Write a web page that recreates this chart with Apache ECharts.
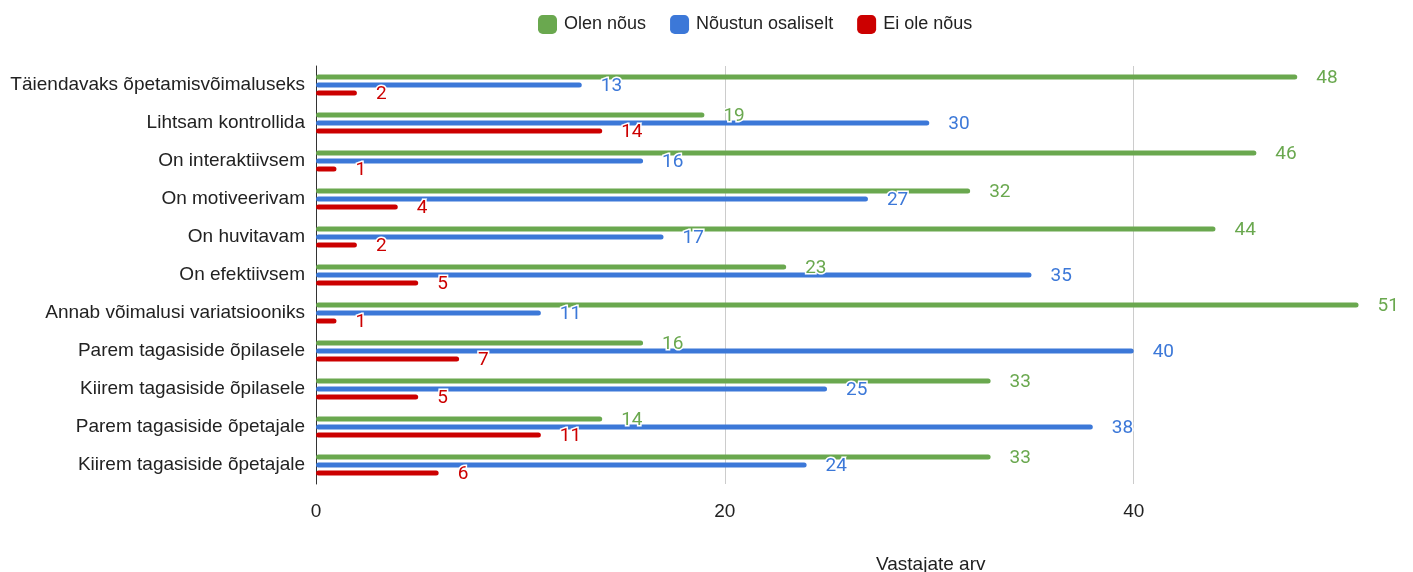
<!DOCTYPE html>
<html><head><meta charset="utf-8">
<script src="https://cdn.jsdelivr.net/npm/echarts@6/dist/echarts.min.js"></script>
<style>html,body{margin:0;padding:0;background:#fff}#c{width:1413px;height:572px}</style>
</head><body><div id="c"></div>
<script>
const categories = ["Täiendavaks õpetamisvõimaluseks","Lihtsam kontrollida","On interaktiivsem","On motiveerivam","On huvitavam","On efektiivsem","Annab võimalusi variatsiooniks","Parem tagasiside õpilasele","Kiirem tagasiside õpilasele","Parem tagasiside õpetajale","Kiirem tagasiside õpetajale"];
const seriesNames = ["Olen nõus","Nõustun osaliselt","Ei ole nõus"];
const olenNous = [48,19,46,32,44,23,51,16,33,14,33];
const noustunOsaliselt = [13,30,16,27,17,35,11,40,25,38,24];
const eiOleNous = [2,14,1,4,2,5,1,7,5,11,6];
const axisTitle = "Vastajate arv";
const colors = ["#6aa84f","#3c78d8","#cc0000"];
const values = [olenNous, noustunOsaliselt, eiOleNous];

const chart = echarts.init(document.getElementById('c'));
chart.setOption({
  animation:false,
  legend:{top:10,left:533,itemWidth:19,itemHeight:19,itemGap:24,icon:'roundRect',
    textStyle:{fontFamily:'Liberation Sans, Arial',fontSize:18,color:'#222',padding:[0,0,0,2]},
    data:seriesNames},
  grid:{left:316,right:34,top:66,bottom:88,containLabel:false},
  xAxis:{type:'value',min:0,max:52,interval:20,
    axisLine:{show:false},axisTick:{show:false},
    axisLabel:{showMaxLabel:false,margin:18,fontFamily:'Liberation Sans, Arial',fontSize:19,color:'#222'},
    splitLine:{show:true,showMinLine:false,showMaxLine:false,lineStyle:{color:'#cccccc',width:1}}},
  yAxis:{type:'category',inverse:true,data:categories,
    axisLine:{show:true,lineStyle:{color:'#333',width:1}},axisTick:{show:false},
    axisLabel:{margin:11,fontFamily:'Liberation Sans, Arial',fontSize:19,color:'#222'}},
  graphic:[{type:'text',left:876,top:555,style:{text:axisTitle,font:'19px "Liberation Sans", Arial',fill:'#222'}}],
  series: seriesNames.map((n,i)=>({
    name:n,type:'bar',data:values[i],barWidth:5,barGap:'60%',
    itemStyle:{color:colors[i],borderRadius:2.5},
    label:{show:true,position:'right',distance:19,color:colors[i],fontFamily:'Roboto',fontSize:19,
      textBorderColor:'#fff',textBorderWidth:3,offset:[0,1]}
  }))
});
</script></body></html>
